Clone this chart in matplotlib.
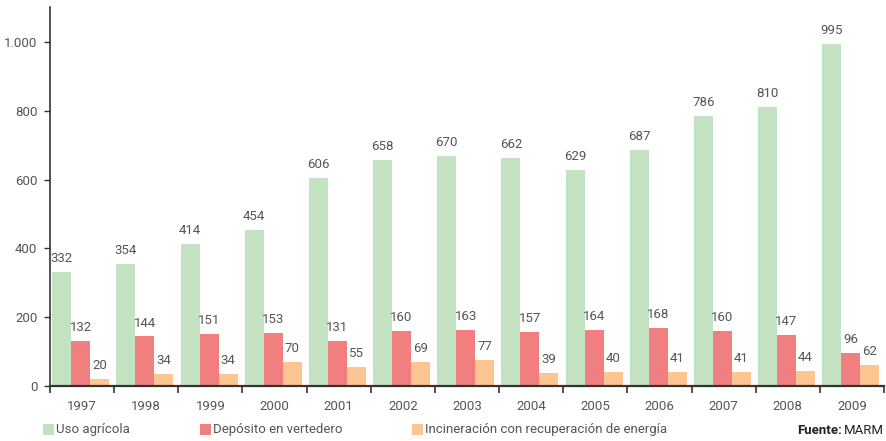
# Evolución del destino de los lodos de depuradora (miles de toneladas)
import matplotlib.pyplot as plt
import numpy as np
from matplotlib.patches import Rectangle

plt.rcParams["font.family"] = ["Roboto", "DejaVu Sans"]

years = ["1997", "1998", "1999", "2000", "2001", "2002", "2003",
         "2004", "2005", "2006", "2007", "2008", "2009"]
uso_agricola = [332, 354, 414, 454, 606, 658, 670, 662, 629, 687, 786, 810, 995]
deposito_vertedero = [132, 144, 151, 153, 131, 160, 163, 157, 164, 168, 160, 147, 96]
incineracion = [20, 34, 34, 70, 55, 69, 77, 39, 40, 41, 41, 44, 62]

series_names = ["Uso agrícola", "Depósito en vertedero",
                "Incineración con recuperación de energía"]
colors = ["#c2e2c1", "#f27f7f", "#fcc592"]
text_color = "#555555"
axis_color = "#333333"

fig = plt.figure(figsize=(8.87, 4.41), dpi=100)
ax = fig.add_axes([50 / 887, 55 / 441, 834 / 887, 379 / 441])

x = np.arange(len(years))
width = 0.296
offsets = [-width, 0, width]
all_series = [uso_agricola, deposito_vertedero, incineracion]

for values, off, color in zip(all_series, offsets, colors):
    bars = ax.bar(x + off - 0.02, values, width=width, color=color, linewidth=0, zorder=2)
    for bar, v in zip(bars, values):
        ax.annotate(str(v), (bar.get_x() + bar.get_width() / 2, bar.get_height()),
                    xytext=(0, 5), textcoords="offset points",
                    ha="center", va="bottom", fontsize=9.5, color=text_color)

ax.set_xlim(-0.5, len(years) - 0.5)
ax.set_ylim(0, 1102)
ax.set_yticks(range(0, 1001, 200))
ax.set_yticklabels([f"{v:,}".replace(",", ".") for v in range(0, 1001, 200)],
                   fontsize=9.5, color=text_color)

# marcas entre grupos, etiquetas centradas en cada año
ax.set_xticks(np.arange(-0.5, len(years), 1))
ax.set_xticklabels([])
ax.set_xticks(x, minor=True)
ax.set_xticklabels(years, minor=True, fontsize=9.5, color=text_color)
ax.tick_params(axis="x", which="major", length=5, width=1.2, color=axis_color, direction="out")
ax.tick_params(axis="x", which="minor", length=0, pad=10)
ax.tick_params(axis="y", length=4, width=1, color=axis_color, pad=5)

for side in ["top", "right"]:
    ax.spines[side].set_visible(False)
ax.spines["left"].set_color(axis_color)
ax.spines["left"].set_linewidth(1.2)
ax.spines["bottom"].set_color(axis_color)
ax.spines["bottom"].set_linewidth(1.6)

# leyenda manual bajo el eje
legend_x = [43, 200, 412]
for lx, name, color in zip(legend_x, series_names, colors):
    fig.patches.append(Rectangle((lx / 887, 6 / 441), 11 / 887, 11 / 441,
                                 transform=fig.transFigure, facecolor=color,
                                 edgecolor="none"))
    fig.text((lx + 13) / 887, 11.5 / 441, name, fontsize=9.5, color=text_color,
             va="center", ha="left")

fig.text(884 / 887, 10 / 441, "MARM", fontsize=9.5, color="#222222", ha="right", va="center")
fig.text(842 / 887, 10 / 441, "Fuente:", fontsize=9.5, color="#222222",
         fontweight="bold", ha="right", va="center")

fig.savefig("out.png", dpi=100)
